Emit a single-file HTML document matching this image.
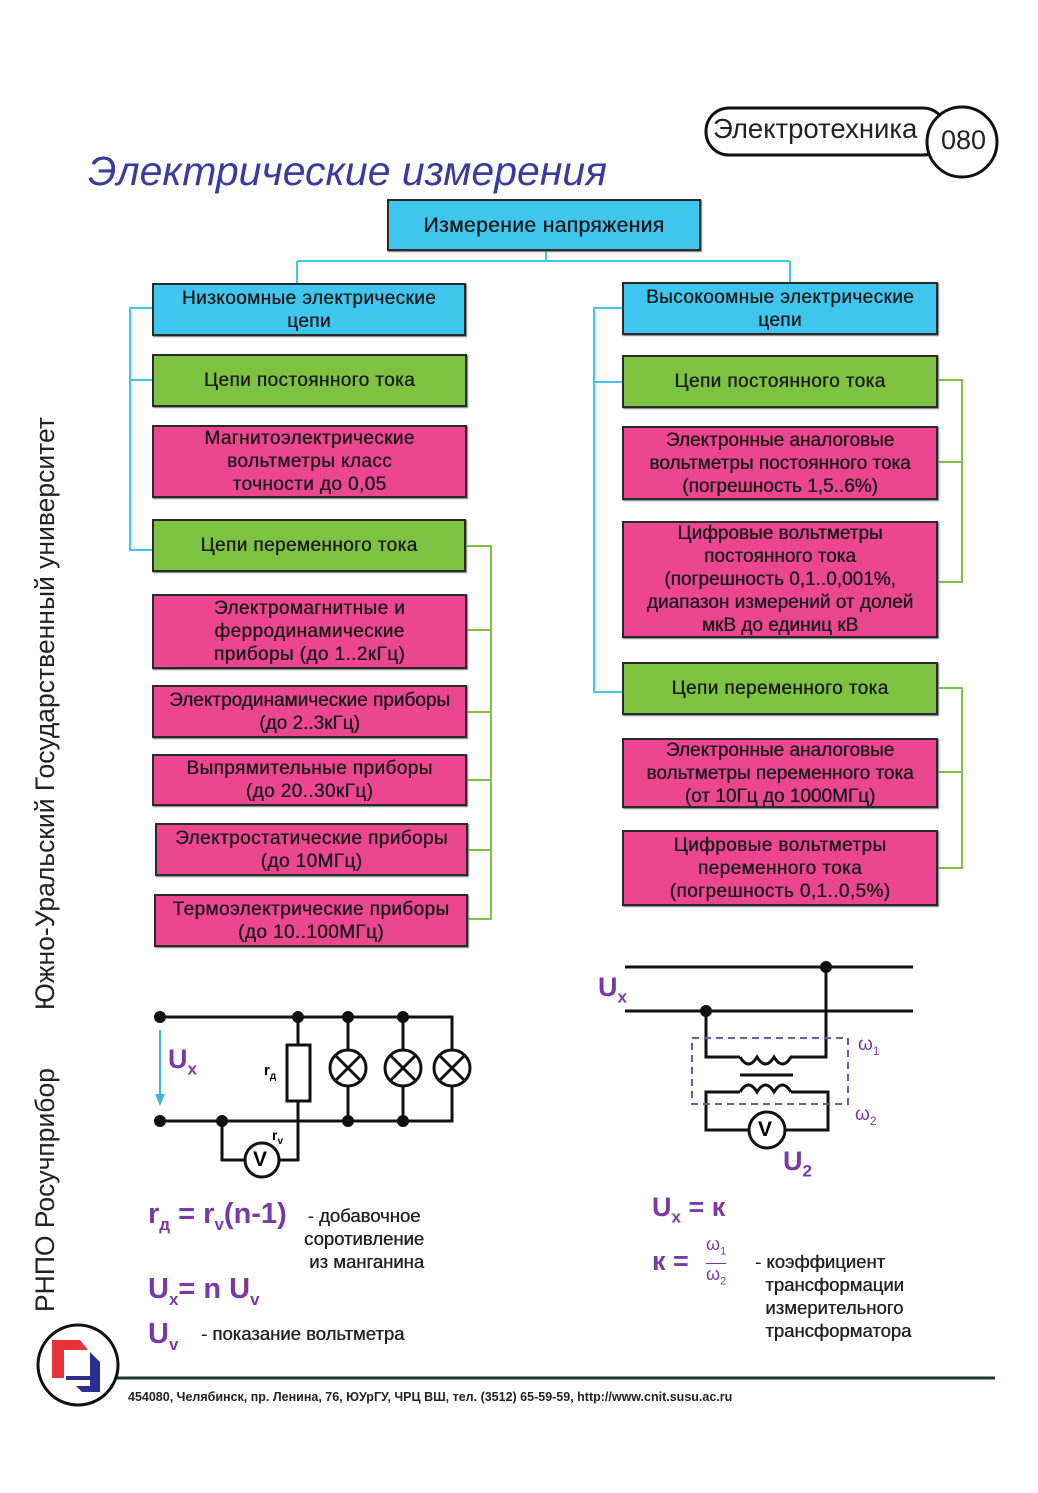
<!DOCTYPE html>
<html><head><meta charset="utf-8">
<style>
body{margin:0;background:#fff;}
#p{position:relative;width:1038px;height:1493px;overflow:hidden;background:#fff;font-family:"Liberation Sans","DejaVu Sans",sans-serif;}
.b{position:absolute;box-sizing:border-box;border:2px solid #2a2a2a;display:flex;align-items:center;justify-content:center;text-align:center;font-size:19px;letter-spacing:0.4px;line-height:23px;color:#1a1a1a;box-shadow:1px 1px 1px #777;text-shadow:0.4px 0 0 #1a1a1a;white-space:nowrap;}
.c{background:#3fc6ef;}
.g{background:#7ec242;}
.k{background:#ec4690;}
.t{position:absolute;white-space:nowrap;}
.pu{color:#7a3aa6;font-weight:bold;}
.d{color:#222;text-shadow:0.4px 0 0 #222;}
</style></head><body><div id="p">
<svg width="1038" height="1493" style="position:absolute;left:0;top:0">
<defs><linearGradient id="hl" x1="0" x2="1"><stop offset="0" stop-color="#ddd"/><stop offset="1" stop-color="#333"/></linearGradient>
<linearGradient id="vl" x1="0" y1="0" x2="0" y2="1"><stop offset="0" stop-color="#eee"/><stop offset="0.3" stop-color="#555"/><stop offset="1" stop-color="#111"/></linearGradient></defs>
<line x1="240" y1="132" x2="706" y2="132" stroke="url(#hl)" stroke-width="4"/>
<rect x="706" y="108" width="240" height="47" rx="23" fill="#fff" stroke="#111" stroke-width="3"/>
<circle cx="962" cy="142" r="35" fill="#fff" stroke="#111" stroke-width="3"/>
<line x1="75" y1="200" x2="75" y2="1326" stroke="url(#vl)" stroke-width="3"/>
<line x1="117" y1="1378" x2="995" y2="1378" stroke="#1a3a2a" stroke-width="3"/>
<circle cx="78" cy="1365" r="40" fill="#fff" stroke="#111" stroke-width="3"/>
<polygon points="52,1340 80,1340 88,1350 64,1350 64,1378 52,1378" fill="#e8333c"/>
<polygon points="90,1352 100,1362 100,1392 82,1392 76,1386 90,1386 90,1380 66,1380 66,1376 90,1376" fill="#2c2f8f"/>
<g stroke="#3fc6ef" stroke-width="2" fill="none">
<path d="M546 251 V261 M297 261 H790 M297 261 V283 M790 261 V282"/>
<path d="M152 308 H130 V550 H152 M130 380 H152"/>
<path d="M622 308 H594 V692 H622 M594 382 H622"/>
</g>
<g stroke="#7ec242" stroke-width="2" fill="none">
<path d="M466 546 H491 V919 H468 M466 630 H491 M466 712 H491 M466 780 H491 M468 850 H491"/>
<path d="M938 380 H962 V582 H938 M938 462 H962"/>
<path d="M938 688 H962 V868 H938 M938 772 H962"/>
</g>
<g stroke="#111" stroke-width="3" fill="none">
<path d="M160 1017 H452 V1121 H160"/>
<path d="M298 1017 V1045 M298 1101 V1160 H280 M244 1160 H222 V1121"/>
<rect x="287" y="1045" width="23" height="56" fill="#fff"/>
<path d="M348 1017 V1050 M348 1086 V1121 M403 1017 V1050 M403 1086 V1121"/>
<circle cx="262" cy="1160" r="17" fill="#fff"/>
<circle cx="348" cy="1068" r="18" fill="#fff"/><circle cx="403" cy="1068" r="18" fill="#fff"/><circle cx="452" cy="1068" r="18" fill="#fff"/>
<path d="M335 1055 L361 1081 M361 1055 L335 1081 M390 1055 L416 1081 M416 1055 L390 1081 M439 1055 L465 1081 M465 1055 L439 1081"/>
</g>
<g fill="#111"><circle cx="160" cy="1017" r="6"/><circle cx="298" cy="1017" r="6"/><circle cx="348" cy="1017" r="6"/><circle cx="403" cy="1017" r="6"/>
<circle cx="160" cy="1121" r="6"/><circle cx="222" cy="1121" r="6"/><circle cx="348" cy="1121" r="6"/><circle cx="403" cy="1121" r="6"/></g>
<line x1="160" y1="1030" x2="160" y2="1098" stroke="#3bb8d8" stroke-width="2"/>
<polygon points="155,1094 165,1094 160,1106" fill="#3bb8d8"/>
<g stroke="#111" stroke-width="3" fill="none">
<path d="M625 967 H913 M625 1011 H913"/>
<path d="M826 967 V1057 H790 M740 1057 H706 V1011"/>
<path d="M740 1057 q8.5 14 17 0 q8.5 14 17 0 q8.5 14 17 0"/>
<path d="M740 1075 H793"/>
<path d="M740 1092 q8.5 -14 17 0 q8.5 -14 17 0 q8.5 -14 17 0"/>
<path d="M740 1092 H706 V1130 H749 M785 1130 H828 V1092 H791"/>
<circle cx="767" cy="1130" r="18" fill="#fff"/>
</g>
<g fill="#111"><circle cx="826" cy="967" r="6"/><circle cx="706" cy="1011" r="6"/></g>
<rect x="692" y="1038" width="156" height="66" fill="none" stroke="#6a5aa8" stroke-width="2" stroke-dasharray="7,5"/>
</svg>

<div class="t" style="left:713px;top:113px;font-size:27.5px;color:#222">Электротехника</div>
<div class="t" style="left:941px;top:125px;font-size:27px;color:#222">080</div>
<div class="t" style="left:88px;top:148px;font-size:41px;font-style:italic;color:#3b3b9e">Электрические измерения</div>
<div class="t" style="left:30px;top:1312px;transform-origin:0 0;transform:rotate(-90deg);font-size:26.5px;color:#222;width:920px;"><span>РНПО Росучприбор</span><span style="position:absolute;left:302px;top:0">Южно-Уральский Государственный университет</span></div>

<div class="b c" style="left:387px;top:199px;width:314px;height:52px;font-size:21px">Измерение напряжения</div>
<div class="b c" style="left:152px;top:283px;width:314px;height:53px">Низкоомные электрические<br>цепи</div>
<div class="b g" style="left:152px;top:354px;width:315px;height:53px">Цепи постоянного тока</div>
<div class="b k" style="left:152px;top:425px;width:315px;height:73px">Магнитоэлектрические<br>вольтметры класс<br>точности до 0,05</div>
<div class="b g" style="left:152px;top:519px;width:314px;height:53px">Цепи переменного тока</div>
<div class="b k" style="left:152px;top:594px;width:315px;height:75px">Электромагнитные и<br>ферродинамические<br>приборы (до 1..2кГц)</div>
<div class="b k" style="left:152px;top:685px;width:315px;height:53px;letter-spacing:0">Электродинамические приборы<br>(до 2..3кГц)</div>
<div class="b k" style="left:152px;top:754px;width:315px;height:52px">Выпрямительные приборы<br>(до 20..30кГц)</div>
<div class="b k" style="left:155px;top:823px;width:313px;height:53px">Электростатические приборы<br>(до 10МГц)</div>
<div class="b k" style="left:154px;top:894px;width:314px;height:53px">Термоэлектрические приборы<br>(до 10..100МГц)</div>

<div class="b c" style="left:622px;top:282px;width:316px;height:53px">Высокоомные электрические<br>цепи</div>
<div class="b g" style="left:622px;top:355px;width:316px;height:53px">Цепи постоянного тока</div>
<div class="b k" style="left:622px;top:426px;width:316px;height:74px;letter-spacing:0">Электронные аналоговые<br>вольтметры постоянного тока<br>(погрешность 1,5..6%)</div>
<div class="b k" style="left:622px;top:521px;width:316px;height:117px;letter-spacing:0">Цифровые вольтметры<br>постоянного тока<br>(погрешность 0,1..0,001%,<br>диапазон измерений от долей<br>мкВ до единиц кВ</div>
<div class="b g" style="left:622px;top:662px;width:316px;height:53px">Цепи переменного тока</div>
<div class="b k" style="left:622px;top:738px;width:316px;height:70px;letter-spacing:0">Электронные аналоговые<br>вольтметры переменного тока<br>(от 10Гц до 1000МГц)</div>
<div class="b k" style="left:622px;top:830px;width:316px;height:76px">Цифровые вольтметры<br>переменного тока<br>(погрешность 0,1..0,5%)</div>

<div class="t pu" style="left:168px;top:1044px;font-size:27px">U<sub style="font-size:17px">x</sub></div>
<div class="t" style="left:264px;top:1062px;font-size:15px;font-weight:bold">r<sub style="font-size:10px">д</sub></div>
<div class="t" style="left:272px;top:1127px;font-size:14px;font-weight:bold">r<sub style="font-size:10px">v</sub></div>
<div class="t" style="left:253px;top:1148px;font-size:21px;font-weight:bold">V</div>
<div class="t pu" style="left:148px;top:1198px;font-size:29px">r<sub style="font-size:17px">д</sub> = r<sub style="font-size:17px">v</sub>(n-1)</div>
<div class="t d" style="left:304px;top:1204px;font-size:18.5px;line-height:23px;text-align:center">- добавочное<br>соротивление<br>&nbsp;из манганина</div>
<div class="t pu" style="left:148px;top:1273px;font-size:29px">U<sub style="font-size:17px">x</sub>= n U<sub style="font-size:17px">v</sub></div>
<div class="t pu" style="left:148px;top:1318px;font-size:29px">U<sub style="font-size:17px">v</sub></div>
<div class="t d" style="left:201px;top:1323px;font-size:18.5px">- показание вольтметра</div>

<div class="t pu" style="left:598px;top:972px;font-size:27px">U<sub style="font-size:17px">x</sub></div>
<div class="t" style="left:858px;top:1034px;font-size:19px;color:#7a3aa6">ω<sub style="font-size:12px">1</sub></div>
<div class="t" style="left:855px;top:1104px;font-size:19px;color:#7a3aa6">ω<sub style="font-size:12px">2</sub></div>
<div class="t" style="left:758px;top:1118px;font-size:21px;font-weight:bold">V</div>
<div class="t pu" style="left:783px;top:1146px;font-size:27px">U<sub style="font-size:17px">2</sub></div>
<div class="t pu" style="left:652px;top:1192px;font-size:27px">U<sub style="font-size:17px">x</sub> = к</div>
<div class="t pu" style="left:652px;top:1246px;font-size:27px">к =</div>
<div class="t" style="left:706px;top:1234px;font-size:18px;color:#7a3aa6;text-align:center;line-height:21px">ω<sub style="font-size:11px">1</sub><br><span style="display:inline-block;border-top:1px solid #7a3aa6">ω<sub style="font-size:11px">2</sub></span></div>
<div class="t d" style="left:755px;top:1250px;font-size:18.5px;line-height:23px">- коэффициент<br>&nbsp;&nbsp;трансформации<br>&nbsp;&nbsp;измерительного<br>&nbsp;&nbsp;трансформатора</div>

<div class="t" style="left:128px;top:1390px;font-size:12.5px;font-weight:bold;color:#222">454080, Челябинск, пр. Ленина, 76, ЮУрГУ, ЧРЦ ВШ, тел. (3512) 65-59-59, http://www.cnit.susu.ac.ru</div>
</div></body></html>
